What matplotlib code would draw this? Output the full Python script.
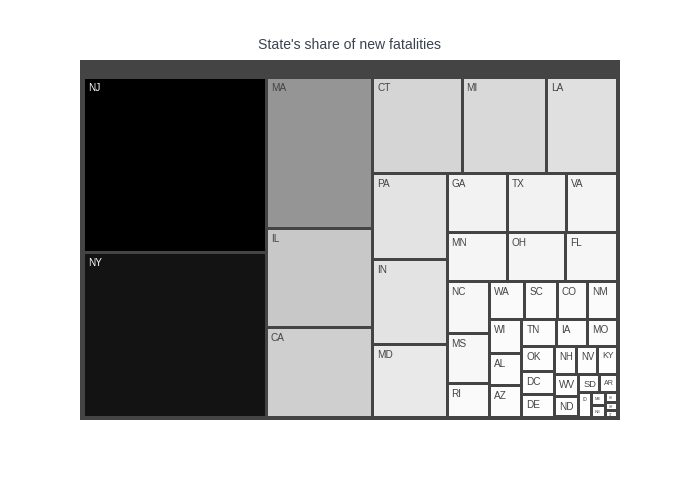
import matplotlib
matplotlib.use("Agg")
import matplotlib.pyplot as plt
from matplotlib.patches import Rectangle
from matplotlib.colors import Normalize

# ---- data (share of new fatalities, %) ----
states = ["NJ", "NY", "MA", "IL", "CA", "CT", "MI", "LA", "PA", "IN", "MD",
          "GA", "TX", "VA", "MN", "OH", "FL", "NC", "MS", "RI", "WA", "SC",
          "CO", "NM", "WI", "AL", "AZ", "TN", "IA", "MO", "OK", "DC", "DE",
          "NH", "NV", "KY", "WV", "ND", "SD", "AR", "ID", "ME", "NE", "KS",
          "OR", "VT"]
share = [17.63, 16.52, 8.86, 5.81, 5.22, 4.73, 4.46, 3.77, 3.52, 3.48, 2.95,
         1.96, 1.93, 1.67, 1.59, 1.54, 1.38, 1.23, 1.16, 0.77, 0.75, 0.68,
         0.64, 0.63, 0.62, 0.57, 0.56, 0.52, 0.47, 0.46, 0.45, 0.41, 0.40,
         0.34, 0.33, 0.30, 0.29, 0.27, 0.21, 0.18, 0.17, 0.10, 0.09, 0.06,
         0.05, 0.045]
title = "State's share of new fatalities"

# ---- squarified treemap (d3-style) ----
def squarify(values, x0, y0, x1, y1, ratio=1.0):
    rects = [None] * len(values)
    total = float(sum(values))
    n = len(values)
    i0 = i1 = 0
    while i0 < n:
        dx, dy = x1 - x0, y1 - y0
        s = values[i1]
        i1 += 1
        mn = mx = s
        alpha = max(dy / dx, dx / dy) / (total * ratio)
        beta = s * s * alpha
        min_ratio = max(mx / beta, beta / mn)
        while i1 < n:
            v = values[i1]
            s += v
            mn = min(mn, v)
            mx = max(mx, v)
            beta = s * s * alpha
            new_ratio = max(mx / beta, beta / mn)
            if new_ratio > min_ratio:
                s -= v
                break
            min_ratio = new_ratio
            i1 += 1
        if dx < dy:
            ny = y0 + dy * s / total
            xx = x0
            for i in range(i0, i1):
                w = (x1 - x0) * values[i] / s
                rects[i] = (xx, y0, xx + w, ny)
                xx += w
            y0 = ny
        else:
            nx = x0 + dx * s / total
            yy = y0
            for i in range(i0, i1):
                h = (y1 - y0) * values[i] / s
                rects[i] = (x0, yy, nx, yy + h)
                yy += h
            x0 = nx
        total -= s
        i0 = i1
    return rects

W, H = 700, 500
fig = plt.figure(figsize=(7, 5), dpi=100)
ax = fig.add_axes([0, 0, 1, 1])
ax.set_xlim(0, W)
ax.set_ylim(H, 0)
ax.axis("off")

# root box (plot domain) and paddings
RX0, RY0, RX1, RY1 = 80, 60, 620, 420
pad_l, pad_t, pad_r, pad_b, inner = 5, 19, 4, 4.5, 3
p = inner / 2
ax.add_patch(Rectangle((RX0, RY0), RX1 - RX0, RY1 - RY0, facecolor="#444444",
                       edgecolor="none"))

rects = squarify(share, RX0 + pad_l - p, RY0 + pad_t - p,
                 RX1 - pad_r + p, RY1 - pad_b + p)

cmap = plt.cm.Greys
norm = Normalize(vmin=min(share), vmax=max(share))

fig.canvas.draw()
renderer = fig.canvas.get_renderer()
base_px = 10.0
px2pt = 72.0 / 100

for lab, val, (x0, y0, x1, y1) in zip(states, share, rects):
    x0, y0, x1, y1 = x0 + p, y0 + p, x1 - p, y1 - p
    col = cmap(norm(val))
    ax.add_patch(Rectangle((x0, y0), x1 - x0, y1 - y0, facecolor=col,
                           edgecolor="none"))
    lum = 0.299 * col[0] + 0.587 * col[1] + 0.114 * col[2]
    tcol = "#ffffff" if lum < 0.5 else "#444444"
    w, h = x1 - x0, y1 - y0
    t = ax.text(x0 + 3.0, y0 + 12.0, lab, fontsize=base_px * px2pt,
                family="Liberation Sans", color=tcol, ha="left", va="baseline")
    bb = t.get_window_extent(renderer)
    sc = min(1.0, (w - 5) / max(bb.width, 1), (h - 3) / 12.0)
    if sc < 1.0:
        sc = max(sc, 0.3)
        t.set_fontsize(base_px * sc * px2pt)
        t.set_position((x0 + 3.0 * sc + 0.5, y0 + 1.5 + 10 * sc))

fig.text(0.5, 1 - 45 / H, title, ha="center", va="center",
         fontsize=14 * px2pt, family="Liberation Sans", color="#3a4350")

fig.savefig("out.png", dpi=100, facecolor="white")
